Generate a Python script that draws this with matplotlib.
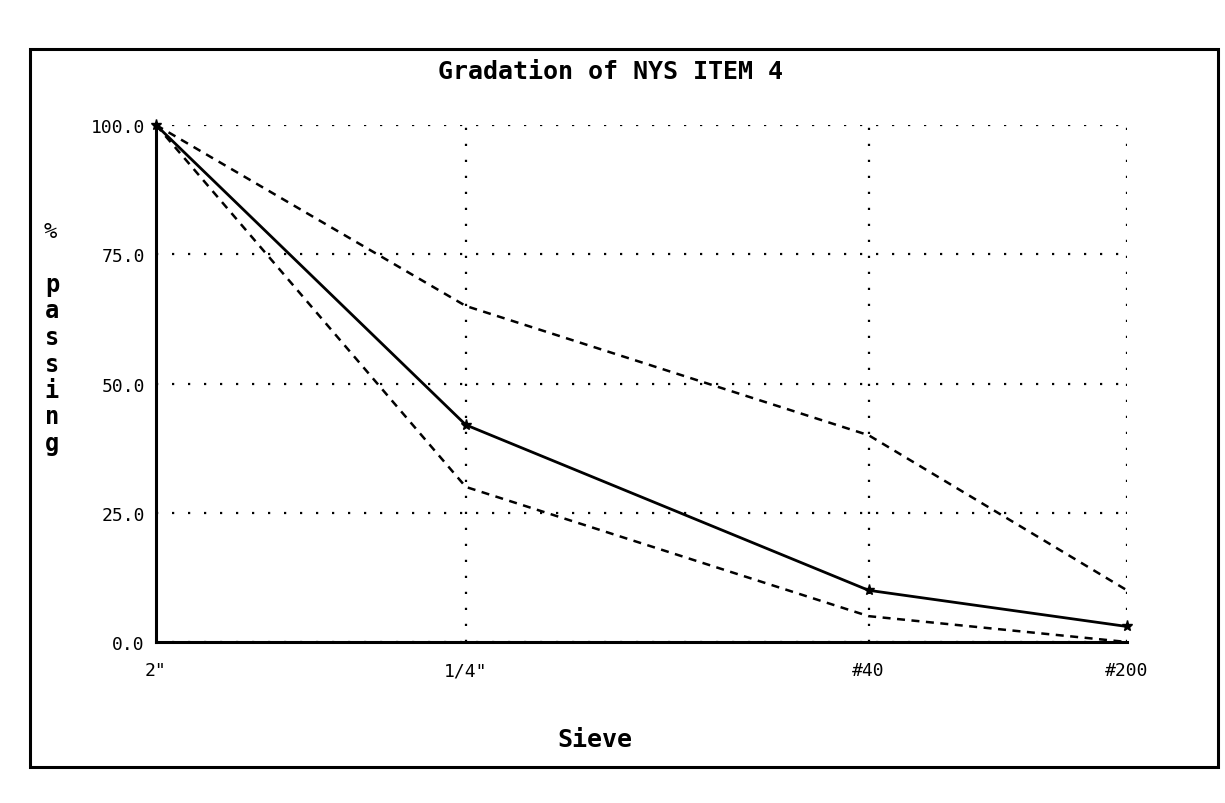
import matplotlib
matplotlib.use("Agg")
import matplotlib.pyplot as plt
from matplotlib.patches import Rectangle

# ---- data ----
sieve_labels = ['2"', '1/4"', '#40', '#200']
sieve_mm = [50.8, 6.35, 0.425, 0.075]
sample_passing = [100, 42, 10, 3]
upper_limit = [100, 65, 40, 10]
lower_limit = [100, 30, 5, 0]
y_ticks = [0, 25, 50, 75, 100]
y_tick_labels = ["0.0", "25.0", "50.0", "75.0", "100.0"]

W, H = 1225, 804
fig = plt.figure(figsize=(W / 100, H / 100), dpi=100)
fig.patch.set_facecolor("white")

mono = ["DejaVu Sans Mono"]

# axes placement (pixels)
L, R, T, B = 156, 1127, 126, 643
ax = fig.add_axes([L / W, 1 - B / H, (R - L) / W, (B - T) / H])
ax.set_xscale("log")
ax.set_xlim(sieve_mm[0], sieve_mm[-1])
ax.set_ylim(0, 100)

ax.set_xticks(sieve_mm)
ax.set_xticklabels(sieve_labels, family=mono, fontsize=13)
ax.xaxis.set_minor_locator(matplotlib.ticker.NullLocator())
ax.set_yticks(y_ticks)
ax.set_yticklabels(y_tick_labels, family=mono, fontsize=13)
ax.tick_params(axis="x", length=0, pad=14)
ax.tick_params(axis="y", length=0, pad=8)

for s in ["top", "right"]:
    ax.spines[s].set_visible(False)
for s in ["left", "bottom"]:
    ax.spines[s].set_linewidth(2.2)
    ax.spines[s].set_color("black")

ax.grid(True, color="black", linewidth=1.6, linestyle=(0, (1, 6.2)))

dash = (0, (3.2, 2.6))
ax.plot(sieve_mm, upper_limit, color="black", lw=1.8, linestyle=dash, clip_on=False)
ax.plot(sieve_mm, lower_limit, color="black", lw=1.8, linestyle=dash, clip_on=False)
ax.plot(sieve_mm, sample_passing, color="black", lw=2.0, marker="*", ms=8,
        clip_on=False)

# title and axis labels
fig.text(610 / W, 1 - 72 / H, "Gradation of NYS ITEM 4", family=mono,
         fontsize=18, fontweight="bold", ha="center", va="center")
fig.text(595 / W, 1 - 740 / H, "Sieve", family=mono, fontsize=18,
         fontweight="bold", ha="center", va="center")

# vertical y label: "%" then "passing" stacked
fig.text(50 / W, 1 - 232 / H, "%", family=mono, fontsize=16,
         ha="center", va="center")
word = "passing"
for i, ch in enumerate(word):
    fig.text(52 / W, 1 - (285 + i * 26.5) / H, ch, family=mono, fontsize=17,
             fontweight="bold", ha="center", va="center")

# outer frame
fig.add_artist(Rectangle((30 / W, 1 - 768 / H), (1218 - 30) / W, (768 - 50) / H,
                         transform=fig.transFigure, fill=False, lw=2.2,
                         edgecolor="black"))

fig.savefig("out.png", dpi=100, facecolor="white")
